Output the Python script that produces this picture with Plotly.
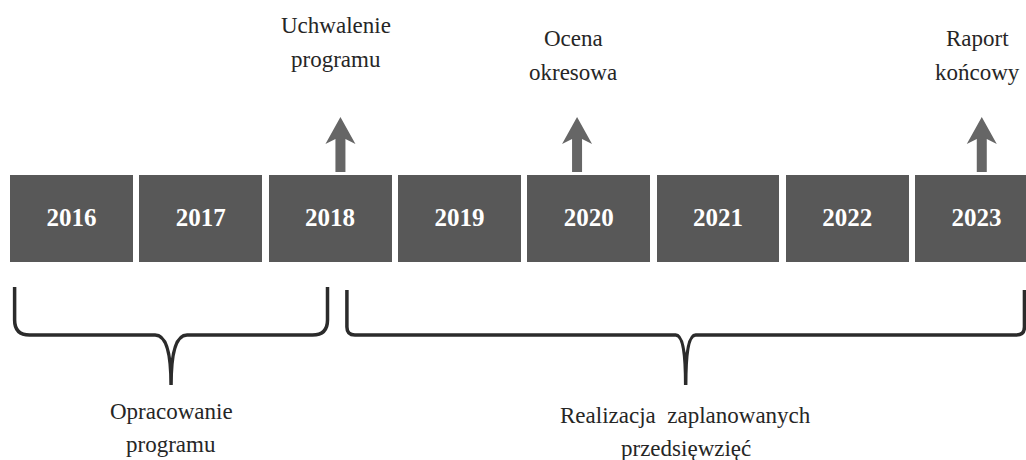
import plotly.graph_objects as go

# ---- data ----
years = [2016, 2017, 2018, 2019, 2020, 2021, 2022, 2023]
year_labels = [str(y) for y in years]

milestone_x = [2018.08, 2019.91, 2023.04]
milestone_labels = ["Uchwalenie\nprogramu", "Ocena\nokresowa", "Raport\nkońcowy"]

phase_start = [2015.56, 2018.13]
phase_end = [2017.98, 2023.37]
phase_labels = ["Opracowanie\nprogramu", "Realizacja  zaplanowanych\nprzedsięwzięć"]

# ---- layout/style ----
W, H = 1026, 460
PX = 1 / 129.3  # year units per pixel
X0 = 2016 - 71.5 * PX
X1 = X0 + W * PX

BOX_TOP, BOX_H = 175, 87
BOX_COLOR = "#585858"
ARROW_COLOR = "#666666"
LINE_COLOR = "#2b2b2b"
TEXT_COLOR = "#262626"
SERIF = "Liberation Serif"
label_top = [25, 38, 38]
line_gap = 34

fig = go.Figure()

fig.add_trace(go.Bar(
    x=years, y=[BOX_H] * len(years), base=[BOX_TOP] * len(years),
    width=0.951, marker=dict(color=BOX_COLOR, line=dict(width=0)),
    hoverinfo="skip", showlegend=False,
))
fig.add_trace(go.Scatter(
    x=years, y=[BOX_TOP + BOX_H / 2 + 1] * len(years), mode="text",
    text=year_labels,
    textfont=dict(family=SERIF, size=25, color="white", weight="bold"),
    hoverinfo="skip", showlegend=False,
))

shapes = []
annotations = []

# arrows + milestone labels
for xc, lab, top in zip(milestone_x, milestone_labels, label_top):
    hw, sw = 15 * PX, 5 * PX
    path = (f"M {xc},117 L {xc+hw},144 L {xc+sw},139 L {xc+sw},172 "
            f"L {xc-sw},172 L {xc-sw},139 L {xc-hw},144 Z")
    shapes.append(dict(type="path", path=path, xref="x", yref="y",
                       fillcolor=ARROW_COLOR, line=dict(width=0)))
    for i, line in enumerate(lab.split("\n")):
        annotations.append(dict(x=xc - 4 * PX, y=top + i * line_gap, xref="x", yref="y",
                                text=line, showarrow=False,
                                font=dict(family=SERIF, size=23, color=TEXT_COLOR)))

# braces + phase labels
brace_params = [dict(yt=287, r=15, tip=16), dict(yt=290, r=8, tip=10)]
text_top = [411, 415]
for s, e, lab, bp, tt in zip(phase_start, phase_end, phase_labels, brace_params, text_top):
    yh, yb, yt = 335, 385, bp["yt"]
    r, tw = bp["r"] * PX, bp["tip"] * PX
    xm = (s + e) / 2
    path = (f"M {s},{yt} L {s},{yh-bp['r']} Q {s},{yh} {s+r},{yh} "
            f"L {xm-tw},{yh} Q {xm},{yh} {xm},{yb} Q {xm},{yh} {xm+tw},{yh} "
            f"L {e-r},{yh} Q {e},{yh} {e},{yh-bp['r']} L {e},{yt}")
    shapes.append(dict(type="path", path=path, xref="x", yref="y",
                       line=dict(color=LINE_COLOR, width=3.5)))
    for i, line in enumerate(lab.split("\n")):
        annotations.append(dict(x=xm, y=tt + i * 33, xref="x", yref="y",
                                text=line, showarrow=False,
                                font=dict(family=SERIF, size=23, color=TEXT_COLOR)))

fig.update_layout(
    width=W, height=H, margin=dict(l=0, r=0, t=0, b=0),
    font=dict(family=SERIF),
    paper_bgcolor="white", plot_bgcolor="white",
    xaxis=dict(range=[X0, X1], visible=False, fixedrange=True),
    yaxis=dict(range=[H, 0], visible=False, fixedrange=True),
    shapes=shapes, annotations=annotations, bargap=0,
)

fig.write_html(
    "out.html",
    config={"displayModeBar": False},
    post_script="document.body.style.margin='0';document.body.style.overflow='hidden';",
)
